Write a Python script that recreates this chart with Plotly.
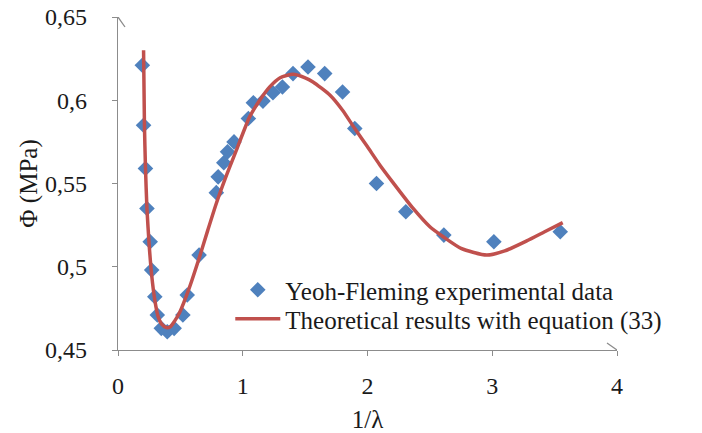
import plotly.graph_objects as go

# Yeoh-Fleming experimental data: 1/lambda vs Phi (MPa)
exp_x = [0.195, 0.205, 0.220, 0.232, 0.258, 0.270, 0.295, 0.315, 0.347, 0.395,
         0.450, 0.520, 0.555, 0.650, 0.788, 0.803, 0.848, 0.878, 0.930, 1.045,
         1.085, 1.162, 1.242, 1.318, 1.403, 1.523, 1.657, 1.800, 1.898, 2.072,
         2.307, 2.612, 3.013, 3.545]
exp_y = [0.621, 0.585, 0.559, 0.535, 0.515, 0.498, 0.482, 0.471, 0.463, 0.461,
         0.463, 0.471, 0.483, 0.507, 0.5445, 0.554, 0.5625, 0.569, 0.575, 0.589,
         0.5985, 0.5995, 0.6045, 0.608, 0.616, 0.620, 0.616, 0.605, 0.583, 0.550,
         0.533, 0.519, 0.515, 0.521]

# Theoretical results with equation (33)
theo_x = [0.205, 0.212, 0.220, 0.232, 0.250, 0.270, 0.295, 0.320, 0.350, 0.387,
          0.420, 0.455, 0.494, 0.570, 0.654, 0.720, 0.788, 0.870, 0.949, 1.055,
          1.136, 1.216, 1.300, 1.403, 1.500, 1.563, 1.700, 1.800, 1.898, 2.000,
          2.100, 2.200, 2.366, 2.500, 2.607, 2.750, 2.955, 3.100, 3.276, 3.420,
          3.565]
theo_y = [0.630, 0.585, 0.560, 0.535, 0.513, 0.495, 0.480, 0.4705, 0.4655, 0.4635,
          0.464, 0.4675, 0.4725, 0.487, 0.506, 0.522, 0.538, 0.555, 0.570, 0.590,
          0.600, 0.608, 0.6135, 0.6156, 0.6135, 0.611, 0.603, 0.594, 0.583, 0.572,
          0.561, 0.551, 0.535, 0.524, 0.518, 0.511, 0.507, 0.5095, 0.5155, 0.521,
          0.5265]

x_ticks = [0, 1, 2, 3, 4]
y_ticks = [0.45, 0.50, 0.55, 0.60, 0.65]
y_tick_text = ["0,45", "0,5", "0,55", "0,6", "0,65"]

AXIS = "#8c8c8c"
FONT = "Liberation Serif"
TXT = "#1a1a1a"

fig = go.Figure()
fig.add_trace(go.Scatter(
    x=exp_x, y=exp_y, mode="markers", name="Yeoh-Fleming experimental data",
    marker=dict(symbol="diamond", size=12, color="#4f81bd"), legend="legend",
))
fig.add_trace(go.Scatter(
    x=theo_x, y=theo_y, mode="lines", name="Theoretical results with equation (33)",
    line=dict(color="#c0504d", width=3.5, shape="spline", smoothing=0.6),
    legend="legend2",
))

# open chevron arrow heads at the ends of both axes
arrow = dict(type="path", xsizemode="pixel", ysizemode="pixel",
             line=dict(color=AXIS, width=1.3), layer="above")
fig.add_shape(**arrow, xref="x", yref="y", xanchor=4, yanchor=0.45,
              path="M -10 7 L 0 0 L -10 -7")
fig.add_shape(**arrow, xref="x", yref="y", xanchor=0, yanchor=0.65,
              path="M -7 -10 L 0 0 L 7 -10")

legend_style = dict(xanchor="left", yanchor="middle", bgcolor="rgba(0,0,0,0)",
                    font=dict(family=FONT, size=25, color=TXT), itemwidth=45)

fig.update_layout(
    width=702, height=433,
    margin=dict(l=118, r=85, t=17, b=83),
    plot_bgcolor="white", paper_bgcolor="white",
    font=dict(family=FONT, size=24, color=TXT),
    showlegend=True,
    legend=dict(x=0.225, y=0.180, **legend_style),
    legend2=dict(x=0.225, y=0.093, **legend_style),
)
fig.update_xaxes(
    range=[0, 4], tickvals=x_ticks, showgrid=False, zeroline=False,
    showline=True, linecolor=AXIS, linewidth=1.3, automargin=False,
    ticks="outside", ticklen=5, tickcolor=AXIS, ticklabelstandoff=9,
    tickfont=dict(family=FONT, size=24, color=TXT),
    title=dict(text="1/λ", standoff=24, font=dict(family=FONT, size=25, color=TXT)),
)
fig.update_yaxes(
    range=[0.45, 0.65], tickvals=y_ticks, ticktext=y_tick_text,
    showgrid=False, zeroline=False, automargin=False,
    showline=True, linecolor=AXIS, linewidth=1.3,
    ticks="outside", ticklen=5, tickcolor=AXIS, ticklabelstandoff=20,
    tickfont=dict(family=FONT, size=24, color=TXT),
    title=dict(text="Φ (MPa)", standoff=0, font=dict(family=FONT, size=25, color=TXT)),
)

fig.write_html("out.html")
